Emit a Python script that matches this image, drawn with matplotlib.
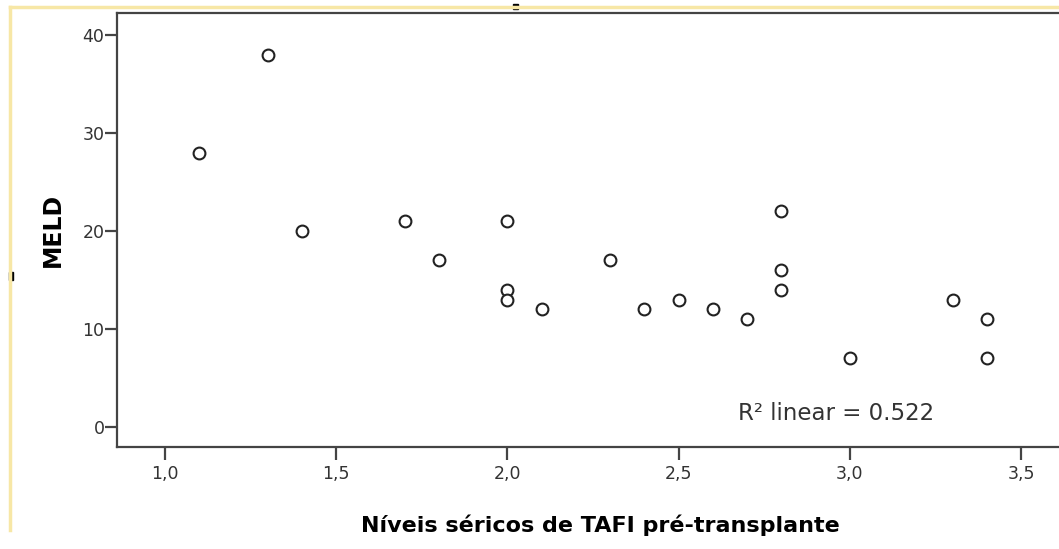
import matplotlib.pyplot as plt
from matplotlib.lines import Line2D
from matplotlib.patches import Rectangle

# TAFI pre-transplant levels vs MELD score
tafi = [1.1, 1.3, 1.4, 1.7, 1.8, 2.0, 2.0, 2.0, 2.1, 2.3, 2.4,
        2.5, 2.6, 2.7, 2.8, 2.8, 2.8, 3.0, 3.3, 3.4, 3.4]
meld = [28, 38, 20, 21, 17, 21, 14, 13, 12, 17, 12,
        13, 12, 11, 22, 16, 14, 7, 13, 11, 7]
xticks = [1.0, 1.5, 2.0, 2.5, 3.0, 3.5]
yticks = [0, 10, 20, 30, 40]
r2_text = "R² linear = 0.522"

plt.rcParams['font.family'] = ['DejaVu Sans']

fig = plt.figure(figsize=(10.59, 5.49), dpi=100)
ax = fig.add_axes([117 / 1059, 1 - 447 / 549, (1059 - 117) / 1059, (447 - 13) / 549])

ax.plot(tafi, meld, 'o', markerfacecolor='white', markeredgecolor='#222222',
        markersize=8.5, markeredgewidth=1.5, linestyle='none')

ax.set_xlim(0.86, 3.611)
ax.set_ylim(-2.04, 42.24)
ax.set_xticks(xticks)
ax.set_xticklabels([f"{v:.1f}".replace('.', ',') for v in xticks])
ax.set_yticks(yticks)

ax.spines['right'].set_visible(False)
for side in ['left', 'bottom', 'top']:
    ax.spines[side].set_color('#444444')
    ax.spines[side].set_linewidth(1.6)

ax.tick_params(axis='both', direction='out', color='#444444', width=1.6,
               labelsize=12.5, labelcolor='#333333')
ax.tick_params(axis='x', length=9, pad=4)
ax.tick_params(axis='y', length=9, pad=0)

ax.set_ylabel('MELD', fontsize=17, fontweight='bold', labelpad=13)
ax.set_xlabel('Níveis séricos de TAFI pré-transplante', fontsize=16,
              fontweight='bold')
ax.xaxis.set_label_coords((600 - 117) / (1059 - 117), -(515 - 447) / (447 - 13))

ax.text(2.675, 1.4, r2_text, fontsize=16.5, color='#333333', ha='left', va='center')

# screenshot frame remnants
fig.add_artist(Line2D([10 / 1059, 10 / 1059], [1 - 7 / 549, 1 - 530 / 549],
                      color='#f7e7a6', linewidth=2.5, transform=fig.transFigure))
fig.add_artist(Line2D([10 / 1059, 1.0], [1 - 7 / 549, 1 - 7 / 549],
                      color='#f7e7a6', linewidth=2.5, transform=fig.transFigure))
fig.add_artist(Rectangle((9 / 1059, 1 - 280 / 549), 4 / 1059, 8 / 549,
                         color='black', transform=fig.transFigure))
fig.add_artist(Rectangle((513 / 1059, 1 - 9 / 549), 5 / 1059, 5 / 549,
                         color='black', transform=fig.transFigure))

fig.savefig('out.png', dpi=100)
